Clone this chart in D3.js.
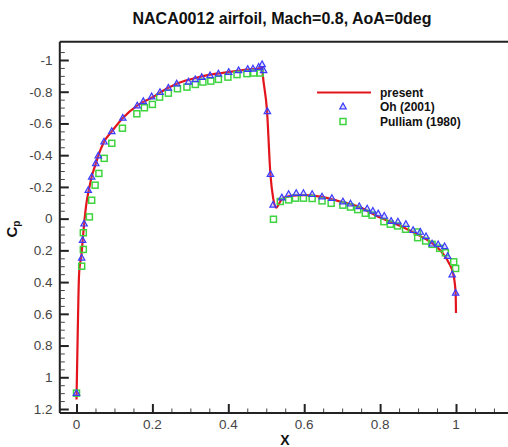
<!DOCTYPE html>
<html><head><meta charset="utf-8">
<script src="https://cdn.jsdelivr.net/npm/d3@7"></script>
<style>body{margin:0;background:#fff}svg{display:block}text{font-family:"Liberation Sans",Arial,sans-serif}</style>
</head><body><svg id="c" width="508" height="447"></svg>
<script>
const titleText = "NACA0012 airfoil, Mach=0.8, AoA=0deg";
const seriesNames = ["present", "Oh (2001)", "Pulliam (1980)"];
const xTicks = [0, 0.2, 0.4, 0.6, 0.8, 1];
const yTicks = [-1, -0.8, -0.6, -0.4, -0.2, 0, 0.2, 0.4, 0.6, 0.8, 1, 1.2];

const presentX = [0, 0.003, 0.0066, 0.009, 0.012, 0.0145, 0.0165, 0.02, 0.027, 0.033, 0.04, 0.05, 0.0575, 0.0726, 0.093, 0.122, 0.16, 0.198, 0.242, 0.264, 0.308, 0.352, 0.396, 0.449, 0.475, 0.484, 0.489, 0.491, 0.502, 0.511, 0.518, 0.526, 0.541, 0.563, 0.598, 0.642, 0.695, 0.744, 0.801, 0.854, 0.906, 0.941, 0.964, 0.981, 0.993, 0.999, 1.0];
const presentCp = [1.14, 0.75, 0.36, 0.29, 0.25, 0.19, 0.13, 0.035, -0.11, -0.186, -0.264, -0.34, -0.397, -0.485, -0.55, -0.635, -0.713, -0.762, -0.825, -0.851, -0.883, -0.908, -0.922, -0.939, -0.945, -0.95, -0.956, -0.903, -0.68, -0.28, -0.133, -0.07, -0.123, -0.144, -0.148, -0.139, -0.108, -0.074, -0.006, 0.046, 0.11, 0.162, 0.215, 0.278, 0.352, 0.468, 0.595];

const ohX = [0.0, 0.0137, 0.016, 0.020, 0.031, 0.040, 0.0507, 0.0575, 0.0726, 0.093, 0.122, 0.160, 0.176, 0.198, 0.220, 0.242, 0.264, 0.295, 0.313, 0.330, 0.352, 0.374, 0.401, 0.427, 0.451, 0.465, 0.48, 0.489, 0.493, 0.503, 0.511, 0.518, 0.541, 0.559, 0.579, 0.598, 0.621, 0.647, 0.673, 0.702, 0.722, 0.745, 0.766, 0.781, 0.795, 0.811, 0.829, 0.847, 0.868, 0.887, 0.906, 0.921, 0.937, 0.953, 0.970, 0.978, 0.990, 0.999];
const ohCp = [1.1, 0.247, 0.135, 0.032, -0.18, -0.264, -0.348, -0.397, -0.485, -0.551, -0.635, -0.713, -0.74, -0.77, -0.797, -0.825, -0.851, -0.863, -0.878, -0.892, -0.903, -0.914, -0.924, -0.935, -0.943, -0.945, -0.956, -0.973, -0.935, -0.677, -0.281, -0.087, -0.133, -0.154, -0.161, -0.161, -0.154, -0.139, -0.129, -0.108, -0.094, -0.078, -0.063, -0.049, -0.032, -0.017, 0.015, 0.019, 0.035, 0.073, 0.084, 0.112, 0.158, 0.162, 0.175, 0.236, 0.352, 0.468];

const pulliamX = [0.0, 0.0137, 0.018, 0.018, 0.034, 0.040, 0.049, 0.059, 0.073, 0.093, 0.121, 0.159, 0.179, 0.200, 0.219, 0.242, 0.266, 0.291, 0.313, 0.333, 0.354, 0.374, 0.399, 0.423, 0.449, 0.467, 0.484, 0.519, 0.537, 0.559, 0.577, 0.598, 0.621, 0.647, 0.671, 0.702, 0.722, 0.741, 0.761, 0.779, 0.81, 0.827, 0.846, 0.867, 0.898, 0.899, 0.92, 0.937, 0.957, 0.972, 0.994, 0.999];
const pulliamCp = [1.1, 0.30, 0.194, 0.089, -0.011, -0.116, -0.211, -0.285, -0.38, -0.475, -0.57, -0.661, -0.699, -0.72, -0.766, -0.791, -0.819, -0.829, -0.846, -0.861, -0.867, -0.878, -0.892, -0.908, -0.914, -0.918, -0.918, 0.004, -0.108, -0.118, -0.129, -0.129, -0.127, -0.112, -0.097, -0.085, -0.073, -0.057, -0.034, -0.022, 0.019, 0.035, 0.046, 0.067, 0.084, 0.12, 0.141, 0.162, 0.187, 0.215, 0.272, 0.314];

const svg = d3.select("#c");
const x = d3.scaleLinear().domain([0, 1]).range([76.5, 456]);
const y = d3.scaleLinear().domain([-1, 1.2]).range([60, 409]);
const xMin = -0.044, xMax = 1.2, yMin = -1.115, yMax = 1.225;
const L = x(xMin), R = x(xMax), T = y(yMin), B = y(yMax);
const axisColor = "#222";

// Title
svg.append("text").attr("x", 282).attr("y", 24).attr("text-anchor", "middle")
  .attr("font-size", 16).attr("font-weight", "bold").attr("fill", "#111").text(titleText);

// Frame
svg.append("line").attr("x1", L).attr("x2", R).attr("y1", T).attr("y2", T).attr("stroke", axisColor).attr("stroke-width", 2);
svg.append("line").attr("x1", L).attr("x2", L).attr("y1", T).attr("y2", B).attr("stroke", axisColor).attr("stroke-width", 2);

// Y axis (ticks inward)
const yMinor = d3.range(-1.05, 1.2001, 0.05).filter(v => Math.abs(Math.round(v*5) - v*5) > 1e-6);
const yAxis = svg.append("g").attr("transform", `translate(${L},0)`)
  .call(d3.axisRight(y).tickValues(yTicks).tickSize(9).tickFormat(() => ""));
yAxis.select(".domain").remove();
yAxis.selectAll("line").attr("stroke", axisColor).attr("stroke-width", 2);
const yAxisMin = svg.append("g").attr("transform", `translate(${L},0)`)
  .call(d3.axisRight(y).tickValues(yMinor).tickSize(5).tickFormat(() => ""));
yAxisMin.select(".domain").remove();
yAxisMin.selectAll("line").attr("stroke", "#444").attr("stroke-width", 1);
svg.append("g").selectAll("text").data(yTicks).join("text")
  .attr("x", 52.5).attr("y", d => y(d)).attr("dy", "0.36em").attr("text-anchor", "end")
  .attr("font-size", 13.5).attr("fill", "#444").text(d => d3.format("")(d).replace("−", "-"));

// X axis (ticks inward, up)
const xMinorT = d3.range(0.05, 1.2, 0.05).filter(v => Math.abs(Math.round(v*5) - v*5) > 1e-6);
const xAxis = svg.append("g").attr("transform", `translate(0,${B})`)
  .call(d3.axisTop(x).tickValues(xTicks).tickSize(9).tickFormat(() => ""));
xAxis.select(".domain").remove();
xAxis.selectAll("line").attr("stroke", axisColor).attr("stroke-width", 2);
const xAxisMin = svg.append("g").attr("transform", `translate(0,${B})`)
  .call(d3.axisTop(x).tickValues(xMinorT).tickSize(4.5).tickFormat(() => ""));
xAxisMin.select(".domain").remove();
xAxisMin.selectAll("line").attr("stroke", "#444").attr("stroke-width", 1);
svg.append("line").attr("x1", L).attr("x2", R).attr("y1", B).attr("y2", B).attr("stroke", axisColor).attr("stroke-width", 2);
svg.append("g").selectAll("text").data(xTicks).join("text")
  .attr("x", d => x(d)).attr("y", 428.5).attr("text-anchor", "middle")
  .attr("font-size", 13.5).attr("fill", "#444").text(d => d3.format("")(d));

// Axis titles
svg.append("text").attr("x", 285).attr("y", 444.5).attr("text-anchor", "middle")
  .attr("font-size", 14).attr("font-weight", "bold").attr("fill", "#111").text("X");
const yl = svg.append("text").attr("transform", "translate(17,229) rotate(-90)").attr("text-anchor", "middle")
  .attr("font-size", 15).attr("font-weight", "bold").attr("fill", "#111");
yl.append("tspan").text("C");
yl.append("tspan").attr("font-size", 10).attr("dy", 3).text("p");

// Present line
const presentData = presentX.map((v, i) => [v, presentCp[i]]);
const line = d3.line().x(d => x(d[0])).y(d => y(d[1])).curve(d3.curveMonotoneX);
svg.append("path").datum(presentData).attr("d", line).attr("fill", "none")
  .attr("stroke", "#e3141b").attr("stroke-width", 2.2).attr("stroke-linejoin", "round");

// Markers
const triColor = "#3b3bff", sqColor = "#3fd43f";
function tri(g, cx, cy) {
  g.append("path").attr("d", `M${cx},${cy-3.4}L${cx+3.2},${cy+2.3}L${cx-3.2},${cy+2.3}Z`)
    .attr("fill", "rgba(120,120,255,0.25)").attr("stroke", triColor).attr("stroke-width", 1.2);
}
function sq(g, cx, cy) {
  g.append("rect").attr("x", cx-3).attr("y", cy-3).attr("width", 6).attr("height", 6)
    .attr("fill", "none").attr("stroke", sqColor).attr("stroke-width", 1.5);
}
const gP = svg.append("g");
pulliamX.forEach((v, i) => sq(gP, x(v), y(pulliamCp[i])));
const gO = svg.append("g");
ohX.forEach((v, i) => tri(gO, x(v), y(ohCp[i])));

// Legend
const lg = svg.append("g");
lg.append("line").attr("x1", 317).attr("x2", 371).attr("y1", 92.5).attr("y2", 92.5)
  .attr("stroke", "#e3141b").attr("stroke-width", 2.2);
tri(lg, 343, 106.5);
sq(lg, 343, 121.5);
[92.5, 106.5, 121.5].forEach((ty, i) => {
  lg.append("text").attr("x", 380).attr("y", ty).attr("dy", "0.36em")
    .attr("font-size", 12).attr("font-weight", "bold").attr("fill", "#111").text(seriesNames[i]);
});
</script></body></html>
